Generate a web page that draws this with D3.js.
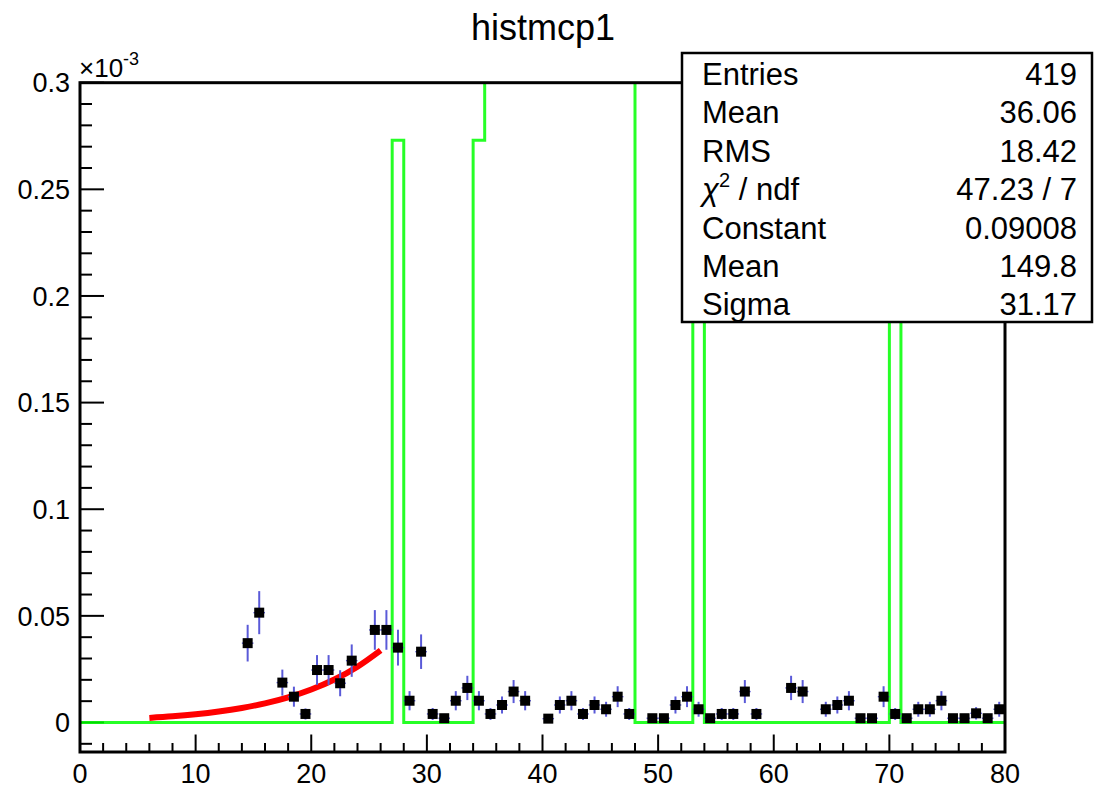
<!DOCTYPE html>
<html>
<head>
<meta charset="utf-8">
<script src="https://cdn.jsdelivr.net/npm/d3@7"></script>
<style>
  html, body { margin: 0; padding: 0; background: #fff; }
  svg { display: block; }
  text { font-family: "Liberation Sans", Arial, Helvetica, sans-serif; fill: #000; }
</style>
</head>
<body>
<svg id="chart" width="1094" height="788"></svg>
<script>
// ---------------- data (y values in units of 1e-3) ----------------
const title = "histmcp1";
const binCenters = [14.5,15.5,17.5,18.5,19.5,20.5,21.5,22.5,23.5,25.5,26.5,27.5,28.5,29.5,30.5,31.5,32.5,33.5,34.5,35.5,36.5,37.5,38.5,
  40.5,41.5,42.5,43.5,44.5,45.5,46.5,47.5,49.5,50.5,51.5,52.5,53.5,54.5,55.5,56.5,57.5,58.5,61.5,62.5,
  64.5,65.5,66.5,67.5,68.5,69.5,70.5,71.5,72.5,73.5,74.5,75.5,76.5,77.5,78.5,79.5];
const binValues = [0.0372,0.0515,0.0187,0.0121,0.0040,0.0246,0.0246,0.0184,0.0290,0.0434,0.0434,0.0351,0.0102,0.0332,0.0040,0.0020,0.0102,0.0162,0.0102,0.0040,0.0082,0.0145,0.0102,
  0.0018,0.0082,0.0102,0.0040,0.0082,0.0062,0.0121,0.0040,0.0020,0.0020,0.0082,0.0121,0.0062,0.0020,0.0040,0.0040,0.0145,0.0040,0.0162,0.0145,
  0.0062,0.0082,0.0102,0.0020,0.0020,0.0121,0.0040,0.0020,0.0062,0.0062,0.0102,0.0020,0.0020,0.0043,0.0020,0.0062];
const binErrors = [0.0086,0.0101,0.0061,0.0047,0.0026,0.0070,0.0070,0.0061,0.0076,0.0093,0.0093,0.0084,0.0045,0.0081,0.0028,0.0020,0.0045,0.0057,0.0045,0.0028,0.0040,0.0054,0.0045,
  0.0019,0.0040,0.0045,0.0028,0.0040,0.0035,0.0049,0.0028,0.0020,0.0020,0.0040,0.0049,0.0035,0.0020,0.0028,0.0028,0.0054,0.0028,0.0057,0.0054,
  0.0035,0.0040,0.0045,0.0020,0.0020,0.0049,0.0028,0.0020,0.0035,0.0035,0.0045,0.0020,0.0020,0.0029,0.0020,0.0035];
const binWidth = 1;

// green histogram: one value per unit bin from 0 to 80 (bins 35-47 are off scale)
const greenValues = [
  0,0,0,0,0,0,0,0,0,0, 0,0,0,0,0,0,0,0,0,0, 0,0,0,0,0,0,0,0.273,0,0,
  0,0,0,0,0.273,0.35,0.35,0.35,0.35,0.35, 0.35,0.35,0.35,0.35,0.35,0.35,0.35,0.35,0,0,
  0,0,0,0.273,0,0,0,0,0,0, 0,0,0,0,0,0,0,0,0,0, 0.273,0,0,0,0,0,0,0,0,0];

// fitted curve sampled points (x, y)
const fitX = [6, 8, 10, 12, 14, 16, 18, 20, 22, 24, 26];
const fitY = [0.00215, 0.00289, 0.00386, 0.00514, 0.00681, 0.00898, 0.01180, 0.01545, 0.02014, 0.02615, 0.03381];

const xTicks = [0,10,20,30,40,50,60,70,80];
const yTicks = [0,0.05,0.1,0.15,0.2,0.25,0.3];
const yTickLabels = ["0","0.05","0.1","0.15","0.2","0.25","0.3"];

const statsLabels = ["Entries","Mean","RMS","χ2 / ndf","Constant","Mean","Sigma"];
const statsValues = ["419","36.06","18.42","47.23 / 7","0.09008","149.8","31.17"];

// ---------------- layout ----------------
const svg = d3.select("#chart");
const L = 80, R = 1005, T = 82.7, B = 752;
const x = d3.scaleLinear().domain([0, 80]).range([L, R]);
const y = d3.scaleLinear().domain([-0.01384, 0.3]).range([B, T]);

svg.append("defs").append("clipPath").attr("id", "frameClip")
  .append("rect").attr("x", L).attr("y", T).attr("width", R - L).attr("height", B - T);

// title
svg.append("text").attr("x", 543).attr("y", 40).attr("text-anchor", "middle")
  .style("font-size", "36px").text(title);

// axes ticks (drawn first so the histogram lies over them)
const axisG = svg.append("g").attr("stroke", "#000").attr("stroke-width", 2);
d3.range(0, 81, 2).forEach(t => {
  const major = t % 10 === 0;
  axisG.append("line").attr("x1", x(t)).attr("x2", x(t))
    .attr("y1", B).attr("y2", B - (major ? 17.5 : 9));
});
d3.range(-1, 31).forEach(k => {
  const t = k / 100;
  const major = k % 5 === 0;
  axisG.append("line").attr("x1", L).attr("x2", L + (major ? 24 : 12))
    .attr("y1", y(t)).attr("y2", y(t));
});

const plot = svg.append("g").attr("clip-path", "url(#frameClip)");

// green histogram step line
const steps = [];
greenValues.forEach((v, i) => { steps.push([i, v]); steps.push([i + 1, v]); });
plot.append("path")
  .attr("d", d3.line().x(d => x(d[0])).y(d => y(d[1]))(steps))
  .attr("fill", "none").attr("stroke", "#00ff00").attr("stroke-width", 3)
  .attr("stroke-opacity", 0.85);

// red fit curve
plot.append("path")
  .attr("d", d3.line().x((d, i) => x(fitX[i])).y(d => y(d)).curve(d3.curveMonotoneX)(fitY))
  .attr("fill", "none").attr("stroke", "#ff0000").attr("stroke-width", 6);

// error bars
const pts = binCenters.map((c, i) => ({c, v: binValues[i], e: binErrors[i]}));
const eb = plot.append("g").attr("stroke", "#5a5ad8").attr("stroke-width", 2);
eb.selectAll("line.v").data(pts).join("line").attr("class", "v")
  .attr("x1", d => x(d.c)).attr("x2", d => x(d.c))
  .attr("y1", d => y(d.v - d.e)).attr("y2", d => y(d.v + d.e));
eb.selectAll("line.h").data(pts).join("line").attr("class", "h")
  .attr("stroke-width", 1.4)
  .attr("x1", d => x(d.c - binWidth / 2)).attr("x2", d => x(d.c + binWidth / 2))
  .attr("y1", d => y(d.v)).attr("y2", d => y(d.v));

// markers
const ms = 10;
plot.append("g").selectAll("rect").data(pts).join("rect")
  .attr("x", d => x(d.c) - ms / 2).attr("y", d => y(d.v) - ms / 2)
  .attr("width", ms).attr("height", ms).attr("fill", "#000");

// frame
svg.append("rect").attr("x", L).attr("y", T).attr("width", R - L).attr("height", B - T)
  .attr("fill", "none").attr("stroke", "#000").attr("stroke-width", 3);

// tick labels
svg.append("g").selectAll("text").data(xTicks).join("text")
  .attr("x", d => x(d)).attr("y", 783).attr("text-anchor", "middle")
  .style("font-size", "27px").text(d => d);
svg.append("g").selectAll("text").data(yTicks).join("text")
  .attr("x", 70).attr("y", d => y(d)).attr("dy", "0.36em").attr("text-anchor", "end")
  .style("font-size", "27px").text((d, i) => yTickLabels[i]);

// exponent label
const ex = svg.append("text").attr("x", 79).attr("y", 77).style("font-size", "26px");
ex.append("tspan").text("×10");
ex.append("tspan").attr("dy", -12).style("font-size", "18px").text("-3");

// stats box
const bx = 682, by = 53, bw = 410, bh = 269;
svg.append("rect").attr("x", bx).attr("y", by).attr("width", bw).attr("height", bh)
  .attr("fill", "#fff").attr("stroke", "#000").attr("stroke-width", 2.5);
const rowH = 38.4, firstBase = 85;
statsLabels.forEach((lab, i) => {
  const t = svg.append("text").attr("x", 702).attr("y", firstBase + i * rowH).style("font-size", "31px");
  if (lab.startsWith("χ2")) {
    t.append("tspan").style("font-style", "italic").text("χ");
    t.append("tspan").attr("dy", -13).style("font-size", "20px").text("2");
    t.append("tspan").attr("dy", 13).text(" / ndf");
  } else {
    t.text(lab);
  }
  svg.append("text").attr("x", 1077).attr("y", firstBase + i * rowH).attr("text-anchor", "end")
    .style("font-size", "31px").text(statsValues[i]);
});
</script>
</body>
</html>
